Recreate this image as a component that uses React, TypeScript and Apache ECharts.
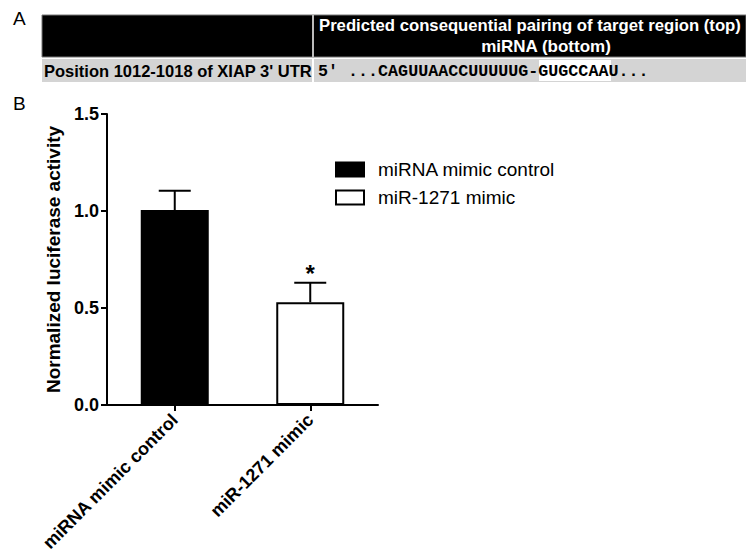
import React, { useEffect, useRef } from 'react';
import * as echarts from 'echarts';

// ---- Data ----
const categories = ['miRNA mimic control', 'miR-1271 mimic'];
const seriesNames = ['miRNA mimic control', 'miR-1271 mimic'];
const means = [1.005, 0.53];
const errors = [0.1, 0.1];
const significance = ['', '*'];
const yMin = 0;
const yMax = 1.5;
const yInterval = 0.5;

// ---- Panel A table texts ----
const panelALabel = 'A';
const panelBLabel = 'B';
const headerLine1 = 'Predicted consequential pairing of target region (top)';
const headerLine2 = 'miRNA (bottom)';
const rowLabel = "Position 1012-1018 of XIAP 3' UTR";
const sequenceText = "5' ...CAGUUAACCUUUUUG-GUGCCAAU...";

const SANS = '"Liberation Sans", Arial, Helvetica, sans-serif';
const MONO = '"Liberation Mono", "Courier New", monospace';

export default function App() {
  const ref = useRef<HTMLDivElement>(null);

  useEffect(() => {
    if (!ref.current) return;
    const chart = echarts.init(ref.current, undefined, { renderer: 'svg' });

    const barData0 = categories.map((_, i) => (i === 0 ? means[i] : '-'));
    const barData1 = categories.map((_, i) => (i === 1 ? means[i] : '-'));
    const errData = categories.map((_, i) => [i, means[i], errors[i]]);

    const option: any = {
      animation: false,
      backgroundColor: '#fff',
      textStyle: { fontFamily: SANS },
      grid: { left: 107, top: 114, width: 271, height: 291, containLabel: false },
      legend: {
        data: seriesNames,
        orient: 'vertical',
        left: 330,
        top: 155,
        itemWidth: 28,
        itemHeight: 14,
        itemGap: 9,
        icon: 'rect',
        textStyle: { fontSize: 19, color: '#000', fontFamily: SANS, padding: [0, 0, 0, 9] },
      },
      xAxis: {
        type: 'category',
        data: categories,
        axisLine: { show: true, lineStyle: { color: '#000', width: 2 } },
        axisTick: { show: true, alignWithLabel: true, length: 6, lineStyle: { color: '#000', width: 2 } },
        axisLabel: {
          rotate: 45,
          interval: 0,
          fontWeight: 'bold',
          fontSize: 18,
          color: '#000',
          fontFamily: SANS,
          margin: 12,
        },
      },
      yAxis: {
        type: 'value',
        min: yMin,
        max: yMax,
        interval: yInterval,
        name: 'Normalized luciferase activity',
        nameLocation: 'middle',
        nameRotate: 90,
        nameGap: 44,
        nameTextStyle: { fontWeight: 'bold', fontSize: 19, color: '#000', fontFamily: SANS },
        axisLine: { show: true, lineStyle: { color: '#000', width: 2 } },
        axisTick: { show: true, length: 6, lineStyle: { color: '#000', width: 2 } },
        axisLabel: {
          formatter: (v: number) => v.toFixed(1),
          fontWeight: 'bold',
          fontSize: 18,
          color: '#000',
          fontFamily: SANS,
          margin: 8,
        },
        splitLine: { show: false },
      },
      series: [
        {
          name: seriesNames[0],
          type: 'bar',
          data: barData0,
          barWidth: 68,
          barGap: '-100%',
          itemStyle: { color: '#000', borderColor: '#000', borderWidth: 2 },
        },
        {
          name: seriesNames[1],
          type: 'bar',
          data: barData1,
          barWidth: 68,
          barGap: '-100%',
          itemStyle: { color: '#fff', borderColor: '#000', borderWidth: 2 },
        },
        {
          name: 'error',
          type: 'custom',
          data: errData,
          encode: { x: 0, y: 1 },
          z: 1,
          renderItem: (params: any, api: any) => {
            const i = api.value(0);
            const m = api.value(1);
            const e = api.value(2);
            const base = api.coord([i, m]);
            const top = api.coord([i, m + e]);
            const half = 16;
            const children: any[] = [
              {
                type: 'line',
                shape: { x1: base[0], y1: base[1], x2: top[0], y2: top[1] },
                style: { stroke: '#000', lineWidth: 2 },
              },
              {
                type: 'line',
                shape: { x1: top[0] - half, y1: top[1], x2: top[0] + half, y2: top[1] },
                style: { stroke: '#000', lineWidth: 2 },
              },
            ];
            const sig = significance[params.dataIndex];
            if (sig) {
              children.push({
                type: 'text',
                style: {
                  text: sig,
                  x: top[0],
                  y: top[1] - 9,
                  align: 'center',
                  verticalAlign: 'middle',
                  font: `bold 24px ${SANS}`,
                  fill: '#000',
                },
              });
            }
            return { type: 'group', children };
          },
        },
      ],
      graphic: [
        { type: 'text', x: 13, y: 18, style: { text: panelALabel, font: `19px ${SANS}`, fill: '#000', verticalAlign: 'middle' } },
        { type: 'text', x: 13, y: 103, style: { text: panelBLabel, font: `19px ${SANS}`, fill: '#000', verticalAlign: 'middle' } },
        { type: 'rect', shape: { x: 42, y: 15, width: 704, height: 42 }, style: { fill: '#000', stroke: '#777', lineWidth: 1 } },
        { type: 'line', shape: { x1: 313, y1: 15, x2: 313, y2: 57 }, style: { stroke: '#bbb', lineWidth: 2 } },
        { type: 'rect', shape: { x: 42, y: 59, width: 270, height: 23 }, style: { fill: '#d4d4d4' } },
        { type: 'rect', shape: { x: 314, y: 59, width: 432, height: 23 }, style: { fill: '#d4d4d4' } },
        { type: 'rect', shape: { x: 539, y: 60, width: 72, height: 21 }, style: { fill: '#fff' } },
        {
          type: 'text', x: 319, y: 25,
          style: { text: headerLine1, font: `bold 16.7px ${SANS}`, fill: '#fff', align: 'left', verticalAlign: 'middle' },
        },
        {
          type: 'text', x: 546, y: 46,
          style: { text: headerLine2, font: `bold 17px ${SANS}`, fill: '#fff', align: 'center', verticalAlign: 'middle' },
        },
        {
          type: 'text', x: 44, y: 71,
          style: { text: rowLabel, font: `bold 16.5px ${SANS}`, fill: '#000', align: 'left', verticalAlign: 'middle' },
        },
        {
          type: 'text', x: 318, y: 71,
          style: { text: sequenceText, font: `bold 16.7px ${MONO}`, fill: '#000', align: 'left', verticalAlign: 'middle' },
        },
      ],
    };

    chart.setOption(option);
    return () => chart.dispose();
  }, []);

  return (
    <div
      ref={ref}
      style={{ position: 'fixed', left: 0, top: 0, width: 746, height: 558, background: '#fff' }}
    />
  );
}
